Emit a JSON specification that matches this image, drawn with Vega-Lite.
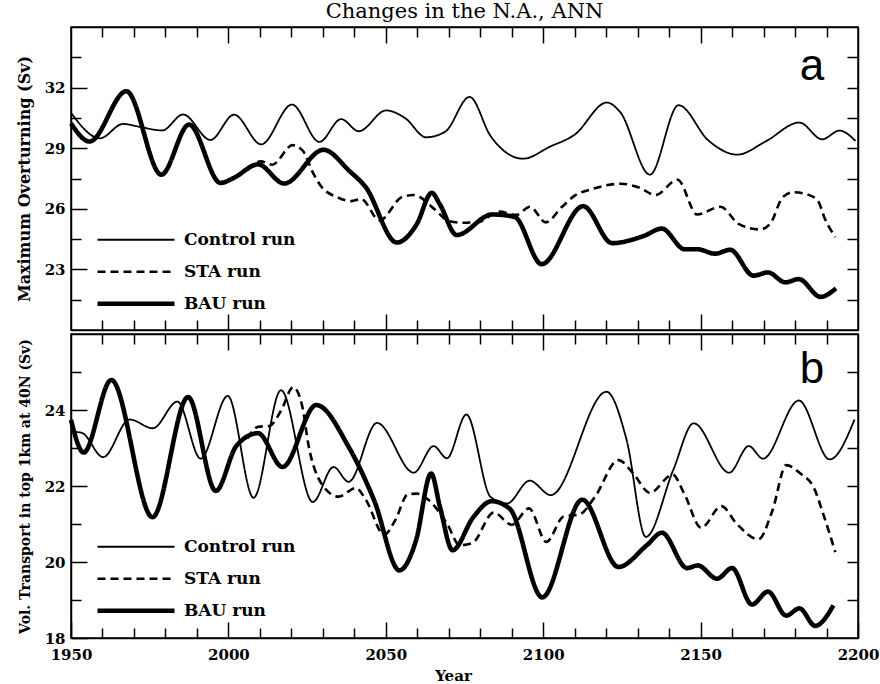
{
  "$schema": "https://vega.github.io/schema/vega-lite/v6.json",
  "padding": {"left": 15, "top": 0, "right": 2, "bottom": 0},
  "title": {"text": "Changes in the N.A., ANN", "font": "DejaVu Serif", "fontSize": 21, "fontWeight": "normal", "color": "black", "offset": 4, "anchor": "middle", "frame": "group"},
  "spacing": 0,
  "datasets": {
    "overturning": [
      {"run": "Control run", "year": 1950, "value": 30.75},
      {"run": "Control run", "year": 1959.2, "value": 29.49},
      {"run": "Control run", "year": 1966.5, "value": 30.2},
      {"run": "Control run", "year": 1972, "value": 30.05},
      {"run": "Control run", "year": 1979, "value": 29.88},
      {"run": "Control run", "year": 1985.6, "value": 30.67},
      {"run": "Control run", "year": 1994.3, "value": 29.41},
      {"run": "Control run", "year": 2001.8, "value": 30.66},
      {"run": "Control run", "year": 2010.4, "value": 29.19},
      {"run": "Control run", "year": 2020.2, "value": 31.16},
      {"run": "Control run", "year": 2028.9, "value": 29.31},
      {"run": "Control run", "year": 2035.8, "value": 30.44},
      {"run": "Control run", "year": 2041.4, "value": 29.84},
      {"run": "Control run", "year": 2050.1, "value": 30.87},
      {"run": "Control run", "year": 2056.2, "value": 30.48},
      {"run": "Control run", "year": 2062.8, "value": 29.54},
      {"run": "Control run", "year": 2068.9, "value": 29.82},
      {"run": "Control run", "year": 2076.6, "value": 31.54},
      {"run": "Control run", "year": 2083.3, "value": 29.6},
      {"run": "Control run", "year": 2093.6, "value": 28.48},
      {"run": "Control run", "year": 2102.2, "value": 29.08},
      {"run": "Control run", "year": 2110, "value": 29.67},
      {"run": "Control run", "year": 2120.2, "value": 31.26},
      {"run": "Control run", "year": 2124.4, "value": 30.8},
      {"run": "Control run", "year": 2133.9, "value": 27.69},
      {"run": "Control run", "year": 2143, "value": 31.13},
      {"run": "Control run", "year": 2152.5, "value": 29.38},
      {"run": "Control run", "year": 2161.6, "value": 28.68},
      {"run": "Control run", "year": 2170.6, "value": 29.33},
      {"run": "Control run", "year": 2181.4, "value": 30.27},
      {"run": "Control run", "year": 2188.6, "value": 29.44},
      {"run": "Control run", "year": 2194.1, "value": 29.87},
      {"run": "Control run", "year": 2199.2, "value": 29.36},
      {"run": "STA run", "year": 2006, "value": 27.9},
      {"run": "STA run", "year": 2010.3, "value": 28.35},
      {"run": "STA run", "year": 2013.9, "value": 28.18},
      {"run": "STA run", "year": 2020.4, "value": 29.15},
      {"run": "STA run", "year": 2023.6, "value": 28.88},
      {"run": "STA run", "year": 2026.8, "value": 27.8},
      {"run": "STA run", "year": 2029.5, "value": 27.1},
      {"run": "STA run", "year": 2034.5, "value": 26.58},
      {"run": "STA run", "year": 2039, "value": 26.38},
      {"run": "STA run", "year": 2042.2, "value": 26.48},
      {"run": "STA run", "year": 2048, "value": 25.43},
      {"run": "STA run", "year": 2055.3, "value": 26.6},
      {"run": "STA run", "year": 2058.9, "value": 26.68},
      {"run": "STA run", "year": 2065.5, "value": 25.98},
      {"run": "STA run", "year": 2070, "value": 25.39},
      {"run": "STA run", "year": 2074.2, "value": 25.31},
      {"run": "STA run", "year": 2079.5, "value": 25.35},
      {"run": "STA run", "year": 2086, "value": 25.86},
      {"run": "STA run", "year": 2091.5, "value": 25.7},
      {"run": "STA run", "year": 2095.8, "value": 26.1},
      {"run": "STA run", "year": 2100.8, "value": 25.33},
      {"run": "STA run", "year": 2106, "value": 26.1},
      {"run": "STA run", "year": 2110, "value": 26.65},
      {"run": "STA run", "year": 2115.2, "value": 26.96},
      {"run": "STA run", "year": 2124.6, "value": 27.24},
      {"run": "STA run", "year": 2130.8, "value": 27.03},
      {"run": "STA run", "year": 2135.6, "value": 26.68},
      {"run": "STA run", "year": 2142.7, "value": 27.44},
      {"run": "STA run", "year": 2148.9, "value": 25.72},
      {"run": "STA run", "year": 2156.3, "value": 26.1},
      {"run": "STA run", "year": 2162.2, "value": 25.24},
      {"run": "STA run", "year": 2169, "value": 24.98},
      {"run": "STA run", "year": 2172.2, "value": 25.28},
      {"run": "STA run", "year": 2176, "value": 26.56},
      {"run": "STA run", "year": 2179.3, "value": 26.82},
      {"run": "STA run", "year": 2184.3, "value": 26.69},
      {"run": "STA run", "year": 2187.3, "value": 26.38},
      {"run": "STA run", "year": 2189.5, "value": 25.5},
      {"run": "STA run", "year": 2192.8, "value": 24.6},
      {"run": "BAU run", "year": 1950, "value": 30.23},
      {"run": "BAU run", "year": 1955.9, "value": 29.33},
      {"run": "BAU run", "year": 1967.6, "value": 31.82},
      {"run": "BAU run", "year": 1978.7, "value": 27.69},
      {"run": "BAU run", "year": 1987.5, "value": 30.17},
      {"run": "BAU run", "year": 1997.5, "value": 27.28},
      {"run": "BAU run", "year": 2001.6, "value": 27.52},
      {"run": "BAU run", "year": 2009.4, "value": 28.2},
      {"run": "BAU run", "year": 2017.7, "value": 27.25},
      {"run": "BAU run", "year": 2030.2, "value": 28.92},
      {"run": "BAU run", "year": 2038.6, "value": 27.85},
      {"run": "BAU run", "year": 2043.5, "value": 27.1},
      {"run": "BAU run", "year": 2053.5, "value": 24.33},
      {"run": "BAU run", "year": 2059.8, "value": 25.23},
      {"run": "BAU run", "year": 2064.6, "value": 26.79},
      {"run": "BAU run", "year": 2067.2, "value": 26.21},
      {"run": "BAU run", "year": 2072.5, "value": 24.7},
      {"run": "BAU run", "year": 2083.8, "value": 25.72},
      {"run": "BAU run", "year": 2090.9, "value": 25.6},
      {"run": "BAU run", "year": 2099.5, "value": 23.26},
      {"run": "BAU run", "year": 2112.7, "value": 26.13},
      {"run": "BAU run", "year": 2121.9, "value": 24.3},
      {"run": "BAU run", "year": 2132, "value": 24.66},
      {"run": "BAU run", "year": 2137.7, "value": 25.02},
      {"run": "BAU run", "year": 2144.9, "value": 24.0},
      {"run": "BAU run", "year": 2148.9, "value": 24.0},
      {"run": "BAU run", "year": 2154.6, "value": 23.78},
      {"run": "BAU run", "year": 2159.4, "value": 23.97},
      {"run": "BAU run", "year": 2166.8, "value": 22.69},
      {"run": "BAU run", "year": 2171.4, "value": 22.85},
      {"run": "BAU run", "year": 2176.9, "value": 22.36},
      {"run": "BAU run", "year": 2181.2, "value": 22.52},
      {"run": "BAU run", "year": 2188.1, "value": 21.64},
      {"run": "BAU run", "year": 2193, "value": 22.06}
    ],
    "transport": [
      {"run": "Control run", "year": 1950, "value": 23.43},
      {"run": "Control run", "year": 1953.4, "value": 23.4},
      {"run": "Control run", "year": 1960.2, "value": 22.76},
      {"run": "Control run", "year": 1968.6, "value": 23.75},
      {"run": "Control run", "year": 1976, "value": 23.52},
      {"run": "Control run", "year": 1983.8, "value": 24.22},
      {"run": "Control run", "year": 1991.2, "value": 22.72},
      {"run": "Control run", "year": 1999.8, "value": 24.37},
      {"run": "Control run", "year": 2008, "value": 21.69},
      {"run": "Control run", "year": 2016.7, "value": 24.52},
      {"run": "Control run", "year": 2026.8, "value": 21.58},
      {"run": "Control run", "year": 2033.4, "value": 22.5},
      {"run": "Control run", "year": 2038.2, "value": 22.11},
      {"run": "Control run", "year": 2047.2, "value": 23.66},
      {"run": "Control run", "year": 2058.9, "value": 22.35},
      {"run": "Control run", "year": 2065.2, "value": 23.05},
      {"run": "Control run", "year": 2069.4, "value": 22.73},
      {"run": "Control run", "year": 2075.6, "value": 23.88},
      {"run": "Control run", "year": 2083.3, "value": 21.71},
      {"run": "Control run", "year": 2088.5, "value": 21.54},
      {"run": "Control run", "year": 2095.7, "value": 22.14},
      {"run": "Control run", "year": 2102.4, "value": 21.76},
      {"run": "Control run", "year": 2120.1, "value": 24.48},
      {"run": "Control run", "year": 2126.5, "value": 23.21},
      {"run": "Control run", "year": 2132.6, "value": 20.66},
      {"run": "Control run", "year": 2141.3, "value": 22.42},
      {"run": "Control run", "year": 2147.8, "value": 23.65},
      {"run": "Control run", "year": 2159.1, "value": 22.35},
      {"run": "Control run", "year": 2165.3, "value": 23.05},
      {"run": "Control run", "year": 2169.8, "value": 22.72},
      {"run": "Control run", "year": 2181.2, "value": 24.25},
      {"run": "Control run", "year": 2191, "value": 22.7},
      {"run": "Control run", "year": 2198.9, "value": 23.75},
      {"run": "STA run", "year": 2006, "value": 23.25},
      {"run": "STA run", "year": 2009.5, "value": 23.56},
      {"run": "STA run", "year": 2013, "value": 23.58},
      {"run": "STA run", "year": 2016.7, "value": 23.98},
      {"run": "STA run", "year": 2020.6, "value": 24.6},
      {"run": "STA run", "year": 2023.4, "value": 24.12},
      {"run": "STA run", "year": 2025.5, "value": 23.05},
      {"run": "STA run", "year": 2029.3, "value": 22.1},
      {"run": "STA run", "year": 2035, "value": 21.72},
      {"run": "STA run", "year": 2040.5, "value": 21.95},
      {"run": "STA run", "year": 2043.7, "value": 21.63},
      {"run": "STA run", "year": 2049.5, "value": 20.72},
      {"run": "STA run", "year": 2053, "value": 21.1},
      {"run": "STA run", "year": 2057, "value": 21.78},
      {"run": "STA run", "year": 2060, "value": 21.8},
      {"run": "STA run", "year": 2063.6, "value": 21.63},
      {"run": "STA run", "year": 2069.5, "value": 21.0},
      {"run": "STA run", "year": 2073.5, "value": 20.44},
      {"run": "STA run", "year": 2077.5, "value": 20.5},
      {"run": "STA run", "year": 2084.3, "value": 21.3},
      {"run": "STA run", "year": 2090, "value": 20.98},
      {"run": "STA run", "year": 2095.5, "value": 21.41},
      {"run": "STA run", "year": 2101, "value": 20.53},
      {"run": "STA run", "year": 2106.5, "value": 21.2},
      {"run": "STA run", "year": 2111.5, "value": 21.25},
      {"run": "STA run", "year": 2116.4, "value": 21.71},
      {"run": "STA run", "year": 2123.9, "value": 22.68},
      {"run": "STA run", "year": 2128.6, "value": 22.33},
      {"run": "STA run", "year": 2133.9, "value": 21.82},
      {"run": "STA run", "year": 2141.1, "value": 22.3},
      {"run": "STA run", "year": 2144.8, "value": 21.8},
      {"run": "STA run", "year": 2150.2, "value": 20.9},
      {"run": "STA run", "year": 2156.6, "value": 21.47},
      {"run": "STA run", "year": 2161.5, "value": 21.0},
      {"run": "STA run", "year": 2168.4, "value": 20.6},
      {"run": "STA run", "year": 2172.8, "value": 21.35},
      {"run": "STA run", "year": 2177.2, "value": 22.55},
      {"run": "STA run", "year": 2181.7, "value": 22.33},
      {"run": "STA run", "year": 2186, "value": 21.95},
      {"run": "STA run", "year": 2189.2, "value": 21.2},
      {"run": "STA run", "year": 2192.8, "value": 20.26},
      {"run": "BAU run", "year": 1950, "value": 23.74},
      {"run": "BAU run", "year": 1954, "value": 22.88},
      {"run": "BAU run", "year": 1962.8, "value": 24.79},
      {"run": "BAU run", "year": 1975.9, "value": 21.18},
      {"run": "BAU run", "year": 1987.2, "value": 24.34},
      {"run": "BAU run", "year": 1996, "value": 21.87},
      {"run": "BAU run", "year": 2002.5, "value": 23.05},
      {"run": "BAU run", "year": 2009.4, "value": 23.39},
      {"run": "BAU run", "year": 2017.2, "value": 22.5},
      {"run": "BAU run", "year": 2027.9, "value": 24.13},
      {"run": "BAU run", "year": 2038.2, "value": 23.03},
      {"run": "BAU run", "year": 2046.4, "value": 21.6},
      {"run": "BAU run", "year": 2054.3, "value": 19.78},
      {"run": "BAU run", "year": 2059.6, "value": 20.57},
      {"run": "BAU run", "year": 2064.4, "value": 22.33},
      {"run": "BAU run", "year": 2067.2, "value": 21.45},
      {"run": "BAU run", "year": 2071.2, "value": 20.31},
      {"run": "BAU run", "year": 2077.8, "value": 21.18},
      {"run": "BAU run", "year": 2083.6, "value": 21.6},
      {"run": "BAU run", "year": 2089.4, "value": 21.4},
      {"run": "BAU run", "year": 2099.7, "value": 19.07},
      {"run": "BAU run", "year": 2112.4, "value": 21.64},
      {"run": "BAU run", "year": 2123.9, "value": 19.87},
      {"run": "BAU run", "year": 2132.9, "value": 20.44},
      {"run": "BAU run", "year": 2137.7, "value": 20.77},
      {"run": "BAU run", "year": 2145.7, "value": 19.84},
      {"run": "BAU run", "year": 2149.1, "value": 19.91},
      {"run": "BAU run", "year": 2155.2, "value": 19.56},
      {"run": "BAU run", "year": 2160, "value": 19.84},
      {"run": "BAU run", "year": 2166.3, "value": 18.88},
      {"run": "BAU run", "year": 2171.4, "value": 19.22},
      {"run": "BAU run", "year": 2177.2, "value": 18.59},
      {"run": "BAU run", "year": 2181.4, "value": 18.78},
      {"run": "BAU run", "year": 2186.4, "value": 18.32},
      {"run": "BAU run", "year": 2192.2, "value": 18.86}
    ]
  },
  "vconcat": [
    {
      "width": 787,
      "height": 303,
      "data": {"name": "overturning"},
      "layer": [
        {
          "mark": {"type": "line", "interpolate": "monotone", "color": "black"},
          "encoding": {
            "x": {
              "field": "year", "type": "quantitative",
              "scale": {"domain": [1950, 2200], "nice": false, "zero": false},
              "axis": {"orient": "bottom", "title": null, "labels": false,
                "values": [1960, 1970, 1980, 1990, 2000, 2010, 2020, 2030, 2040, 2050, 2060, 2070, 2080, 2090, 2100, 2110, 2120, 2130, 2140, 2150, 2160, 2170, 2180, 2190],
                "tickSize": {"condition": {"test": "datum.value % 50 === 0", "value": -16}, "value": -10}}
            },
            "y": {
              "field": "value", "type": "quantitative",
              "scale": {"domain": [20, 35], "nice": false, "zero": false},
              "axis": {"orient": "left", "title": "Maximum Overturning (Sv)", "titleFontSize": 16, "titlePadding": 12,
                "values": [21.5, 23, 24.5, 26, 27.5, 29, 30.5, 32, 33.5],
                "labelExpr": "datum.value % 3 === 2 ? datum.label : ''",
                "labelPadding": 22,
                "tickSize": {"condition": {"test": "datum.value % 3 === 2", "value": -16}, "value": -10}}
            },
            "strokeDash": {
              "field": "run", "type": "nominal",
              "scale": {"domain": ["Control run", "STA run", "BAU run"], "range": [[1, 0], [8, 5], [1, 0]]},
              "legend": {"title": null, "orient": "none", "legendX": 24, "legendY": 197}
            },
            "strokeWidth": {
              "field": "run", "type": "nominal",
              "scale": {"type": "ordinal", "domain": ["Control run", "STA run", "BAU run"], "range": [1.8, 2.6, 4.6]},
              "legend": {"title": null, "orient": "none", "legendX": 24, "legendY": 197}
            }
          }
        },
        {
          "data": {"values": [{}]},
          "mark": {"type": "text", "text": "a", "font": "Liberation Sans", "fontSize": 44, "align": "center", "baseline": "alphabetic", "color": "black"},
          "encoding": {
            "x": {"datum": 2185.4, "type": "quantitative",
              "scale": {"domain": [1950, 2200], "nice": false, "zero": false},
              "axis": {"orient": "top", "title": null, "labels": false,
                "values": [1960, 1970, 1980, 1990, 2000, 2010, 2020, 2030, 2040, 2050, 2060, 2070, 2080, 2090, 2100, 2110, 2120, 2130, 2140, 2150, 2160, 2170, 2180, 2190],
                "tickSize": {"condition": {"test": "datum.value % 50 === 0", "value": -16}, "value": -10}}},
            "y": {"datum": 32.4, "type": "quantitative",
              "scale": {"domain": [20, 35], "nice": false, "zero": false},
              "axis": {"orient": "right", "title": null, "labels": false,
                "values": [21.5, 23, 24.5, 26, 27.5, 29, 30.5, 32, 33.5], "tickSize": -11}}
          }
        }
      ],
      "resolve": {"axis": {"x": "independent", "y": "independent"}}
    },
    {
      "width": 787,
      "height": 304,
      "data": {"name": "transport"},
      "layer": [
        {
          "mark": {"type": "line", "interpolate": "monotone", "color": "black"},
          "encoding": {
            "x": {
              "field": "year", "type": "quantitative",
              "scale": {"domain": [1950, 2200], "nice": false, "zero": false},
              "axis": {"orient": "bottom", "title": "Year", "titleFontSize": 15, "titlePadding": 0, "titleX": 382,
                "values": [1950, 1960, 1970, 1980, 1990, 2000, 2010, 2020, 2030, 2040, 2050, 2060, 2070, 2080, 2090, 2100, 2110, 2120, 2130, 2140, 2150, 2160, 2170, 2180, 2190, 2200],
                "labelExpr": "datum.value % 50 === 0 ? datum.label : ''",
                "format": "d",
                "labelFlush": false,
                "labelOverlap": false,
                "labelPadding": 25,
                "tickSize": {"condition": {"test": "datum.value % 50 === 0", "value": -16}, "value": -10}}
            },
            "y": {
              "field": "value", "type": "quantitative",
              "scale": {"domain": [18, 26], "nice": false, "zero": false},
              "axis": {"orient": "left", "title": "Vol. Transport in top 1km at 40N (Sv)", "titleFontSize": 14, "titlePadding": 12,
                "values": [18, 19, 20, 21, 22, 23, 24, 25],
                "labelExpr": "datum.value % 2 === 0 ? datum.label : ''",
                "labelPadding": 22,
                "tickSize": {"condition": {"test": "datum.value % 2 === 0", "value": -16}, "value": -10}}
            },
            "strokeDash": {
              "field": "run", "type": "nominal",
              "scale": {"domain": ["Control run", "STA run", "BAU run"], "range": [[1, 0], [8, 5], [1, 0]]},
              "legend": {"title": null, "orient": "none", "legendX": 24, "legendY": 197}
            },
            "strokeWidth": {
              "field": "run", "type": "nominal",
              "scale": {"type": "ordinal", "domain": ["Control run", "STA run", "BAU run"], "range": [1.8, 2.6, 4.6]},
              "legend": {"title": null, "orient": "none", "legendX": 24, "legendY": 197}
            }
          }
        },
        {
          "data": {"values": [{}]},
          "mark": {"type": "text", "text": "b", "font": "Liberation Sans", "fontSize": 44, "align": "center", "baseline": "alphabetic", "color": "black"},
          "encoding": {
            "x": {"datum": 2185.4, "type": "quantitative",
              "scale": {"domain": [1950, 2200], "nice": false, "zero": false},
              "axis": {"orient": "top", "title": null, "labels": false,
                "values": [1960, 1970, 1980, 1990, 2000, 2010, 2020, 2030, 2040, 2050, 2060, 2070, 2080, 2090, 2100, 2110, 2120, 2130, 2140, 2150, 2160, 2170, 2180, 2190],
                "tickSize": {"condition": {"test": "datum.value % 50 === 0", "value": -16}, "value": -10}}},
            "y": {"datum": 24.7, "type": "quantitative",
              "scale": {"domain": [18, 26], "nice": false, "zero": false},
              "axis": {"orient": "right", "title": null, "labels": false,
                "values": [19, 20, 21, 22, 23, 24, 25], "tickSize": -11}}
          }
        }
      ],
      "resolve": {"axis": {"x": "independent", "y": "independent"}}
    }
  ],
  "resolve": {
    "scale": {"strokeDash": "independent", "strokeWidth": "independent"},
    "legend": {"strokeDash": "independent", "strokeWidth": "independent"}
  },
  "config": {
    "background": "white",
    "view": {"stroke": "black", "strokeWidth": 1.5},
    "axis": {
      "grid": false,
      "domainColor": "black", "domainWidth": 1.5,
      "tickColor": "black", "tickWidth": 1.5,
      "labelColor": "black", "labelFont": "DejaVu Serif", "labelFontWeight": "bold", "labelFontSize": 15,
      "titleColor": "black", "titleFont": "DejaVu Serif", "titleFontWeight": "bold"
    },
    "legend": {
      "symbolType": "stroke", "symbolSize": 5929, "symbolStrokeColor": "black",
      "labelFont": "DejaVu Serif", "labelFontWeight": "bold", "labelFontSize": 17, "labelColor": "black",
      "labelOffset": 7, "clipHeight": 31.5, "rowPadding": 0, "padding": 0
    }
  }
}
